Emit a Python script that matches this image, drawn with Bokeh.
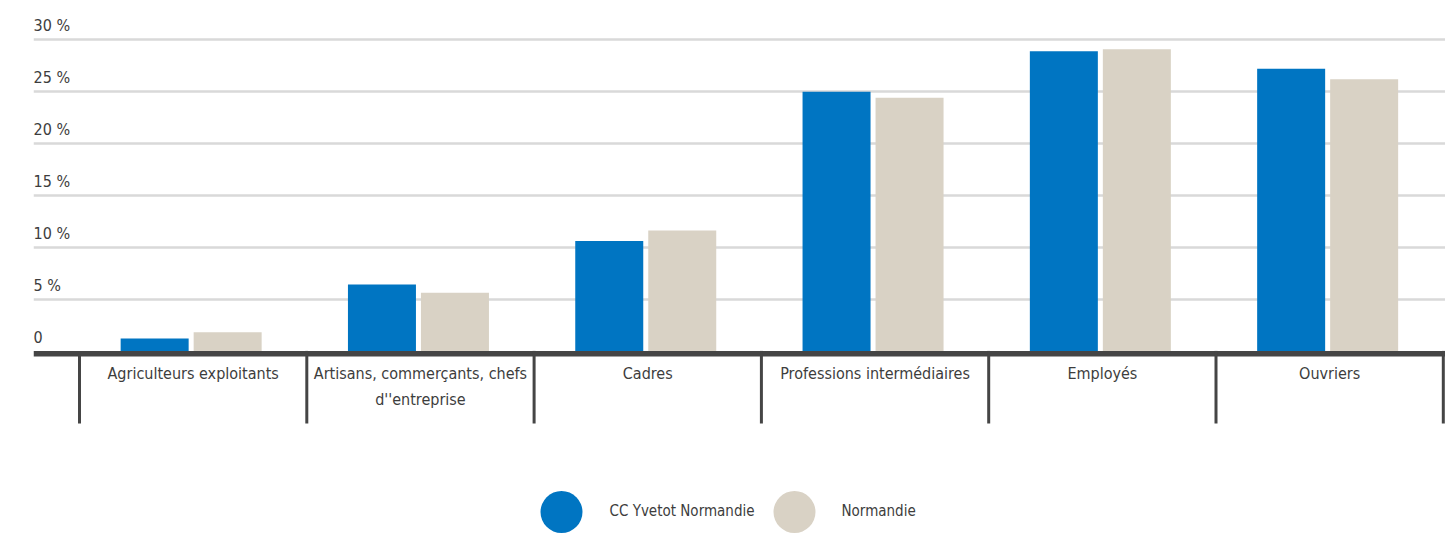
from bokeh.plotting import figure
from bokeh.models import ColumnDataSource, FixedTicker, Grid
from bokeh.core.properties import value
from bokeh.embed import file_html
from bokeh.resources import INLINE

# ---- data ----
categories = ["Agriculteurs exploitants",
              "Artisans, commerçants, chefs\nd''entreprise",
              "Cadres",
              "Professions intermédiaires",
              "Employés",
              "Ouvriers"]
cc_yvetot = [1.2, 6.4, 10.6, 25.0, 28.9, 27.2]
normandie = [1.8, 5.6, 11.6, 24.4, 29.1, 26.2]
series_names = ["CC Yvetot Normandie", "Normandie"]
y_tick_values = [0, 5, 10, 15, 20, 25, 30]
y_tick_labels = ["0", "5 %", "10 %", "15 %", "20 %", "25 %", "30 %"]

# ---- style / layout ----
FONT = value("DejaVu Sans Condensed")
FS = "16px"
TEXT_COLOR = "#3d3d3d"
BLUE = "#0075c2"
BEIGE = "#d9d2c5"
AXIS_COLOR = "#454545"
GRID_COLOR = "#d9d9d9"

W, H = 1445, 535
BORDER_LEFT = 33
PX_X = 227.3          # pixels per category
X0_SCREEN = 79        # screen x of first category boundary
PX_Y = 10.37          # pixels per percent
ZERO_SCREEN = 350.4   # screen y of 0 %
PAGE = 0

x_start = (PAGE + BORDER_LEFT - X0_SCREEN) / PX_X
x_end = (PAGE + W - X0_SCREEN) / PX_X
y_end = (ZERO_SCREEN - PAGE) / PX_Y
y_start = -(PAGE + H - ZERO_SCREEN) / PX_Y

p = figure(width=W, height=H, output_backend="svg", toolbar_location=None,
           x_range=(x_start, x_end), y_range=(y_start, y_end),
           x_axis_type=None, y_axis_type=None,
           min_border_left=BORDER_LEFT, min_border_right=0,
           min_border_top=0, min_border_bottom=0)
p.outline_line_color = None
p.background_fill_color = "white"
p.border_fill_color = "white"

grid = Grid(dimension=1, ticker=FixedTicker(ticks=y_tick_values[1:]),
            grid_line_color=GRID_COLOR, grid_line_width=2.5)
p.add_layout(grid, "center")

n = len(categories)
centers = [i + 0.5 for i in range(n)]
BAR_W = 68 / PX_X
OFF_A = -38.5 / PX_X
OFF_B = 34.5 / PX_X

src = ColumnDataSource(dict(
    xa=[c + OFF_A for c in centers], xb=[c + OFF_B for c in centers],
    a=cc_yvetot, b=normandie, cat=categories, xc=centers))

p.vbar(x="xa", top="a", bottom=0, width=BAR_W, source=src,
       fill_color=BLUE, line_color=None)
p.vbar(x="xb", top="b", bottom=0, width=BAR_W, source=src,
       fill_color=BEIGE, line_color=None)

# axis line
AXIS_PX = 5.5
p.quad(left=[x_start], right=[x_end], top=[0], bottom=[-AXIS_PX / PX_Y],
       fill_color=AXIS_COLOR, line_color=None)

# category separators
TICK_PX = 423 - ZERO_SCREEN
bounds = list(range(n + 1))
p.segment(x0=bounds, x1=bounds, y0=[0] * len(bounds),
          y1=[-TICK_PX / PX_Y] * len(bounds),
          line_color=AXIS_COLOR, line_width=3)

# category labels
p.text(x="xc", y=0, text="cat", source=src, y_offset=13,
       text_align="center", text_baseline="top",
       text_font=FONT, text_font_size=FS, text_color=TEXT_COLOR,
       text_line_height=1.4)

# y tick labels
p.text(x=[x_start] * len(y_tick_values), y=y_tick_values, text=y_tick_labels,
       y_offset=-14, text_align="left", text_baseline="alphabetic",
       text_font=FONT, text_font_size=FS, text_color=TEXT_COLOR)

# legend
LEG_Y = -(510 - ZERO_SCREEN) / PX_Y
leg_cx = [(561 - X0_SCREEN) / PX_X, (794 - X0_SCREEN) / PX_X]
leg_tx = [(609 - X0_SCREEN) / PX_X, (841 - X0_SCREEN) / PX_X]
p.scatter(x=leg_cx, y=[LEG_Y - 1.5 / PX_Y] * 2, size=42, marker="circle",
          fill_color=[BLUE, BEIGE], line_color=None)
p.text(x=leg_tx, y=[LEG_Y] * 2, text=series_names,
       text_align="left", text_baseline="middle",
       text_font=FONT, text_font_size="15px", text_color=TEXT_COLOR)

open("out.html", "w").write(file_html(p, INLINE))
